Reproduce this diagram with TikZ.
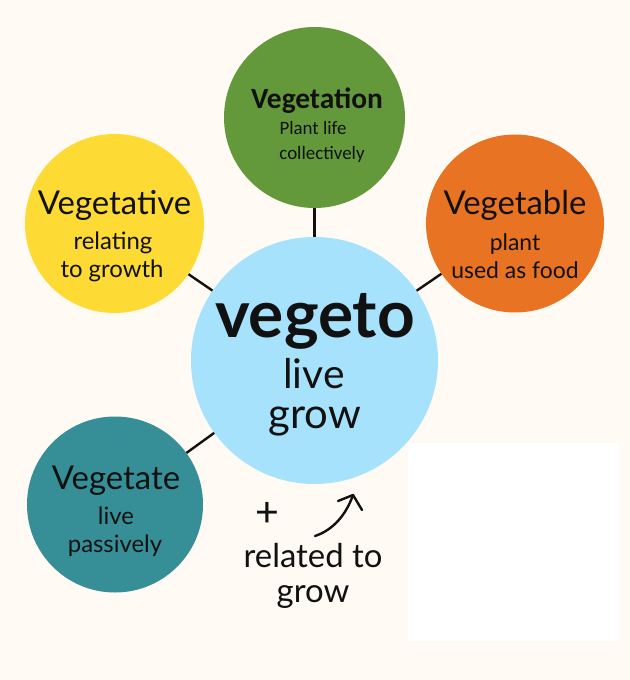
\documentclass[tikz,border=0pt]{standalone}
\usepackage{fontspec}
\setmainfont{Lato}
\newfontfamily\titlefont{Carlito}
\definecolor{paper}{RGB}{255,251,244}
\definecolor{rootblue}{RGB}{166,226,252}
\definecolor{leafgreen}{RGB}{99,153,59}
\definecolor{sunyellow}{RGB}{253,218,52}
\definecolor{carrotorange}{RGB}{232,115,35}
\definecolor{pondteal}{RGB}{54,143,150}
\definecolor{ink}{RGB}{17,17,17}
\tikzset{
  blob/.style={circle, inner sep=0pt, minimum size=#1},
  link/.style={line width=2.4bp, draw=ink},
  word/.style={anchor=base, text=ink, inner sep=0pt},
}
\begin{document}
\begin{tikzpicture}[x=1bp,y=-1bp]
% Paper
\useasboundingbox (0,0) rectangle (630,680);
\fill[paper] (0,0) rectangle (630,680);

% Circles
\node[blob=247bp, fill=rootblue] (vegeto) at (314.5,360.5) {};
\node[blob=181bp, fill=leafgreen] (vegetation) at (314.5,117.5) {};
\node[blob=179bp, fill=sunyellow] (vegetative) at (114.5,223.5) {};
\node[blob=178bp, fill=carrotorange] (vegetable) at (515,223.5) {};
\node[blob=176bp, fill=pondteal] (vegetate) at (115,504.5) {};

% Connectors
\draw[link] (vegetation) -- (vegeto);
\draw[link] (vegetative) -- (vegeto);
\draw[link] (vegetable) -- (vegeto);
\draw[link] (vegetate) -- (vegeto);

% Root word
\node[word, font=\fontsize{66}{70}\selectfont\bfseries] (rootname) at (315,337) {vegeto};
\node[word, font=\fontsize{41}{44}\selectfont] (rootlive) at (314,388) {live};
\node[word, font=\fontsize{42}{45}\selectfont] (rootgrow) at (315,428) {grow};

% Vegetation
\node[word, font=\fontsize{29.5}{31}\selectfont\titlefont\bfseries] (tnname) at (317,109) {Vegetation};
\node[word, font=\fontsize{19}{21}\selectfont\titlefont] (tnlineA) at (313,135) {Plant life};
\node[word, font=\fontsize{19}{21}\selectfont\titlefont] (tnlineB) at (322,159) {collectively};

% Vegetative
\node[word, font=\fontsize{33}{36}\selectfont] (tvname) at (114.5,214) {Vegetative};
\node[word, font=\fontsize{24}{26}\selectfont] (tvlineA) at (113,249) {relating};
\node[word, font=\fontsize{24}{26}\selectfont] (tvlineB) at (112,277) {to growth};

% Vegetable
\node[word, font=\fontsize{33}{36}\selectfont] (tbname) at (515,214) {Vegetable};
\node[word, font=\fontsize{23}{25}\selectfont] (tblineA) at (515,250) {plant};
\node[word, font=\fontsize{23}{25}\selectfont] (tblineB) at (515,278) {used as food};

% Vegetate
\node[word, font=\fontsize{33}{36}\selectfont] (ttname) at (116,489) {Vegetate};
\node[word, font=\fontsize{24}{26}\selectfont] (ttlineA) at (116,524) {live};
\node[word, font=\fontsize{24}{26}\selectfont] (ttlineB) at (115,552) {passively};

% Note below the root
\node[word, font=\fontsize{44}{46}\selectfont\titlefont] (plus) at (267,526) {+};
\node[word, font=\fontsize{33}{36}\selectfont] (notelineA) at (313,567) {related to};
\node[word, font=\fontsize{33}{36}\selectfont] (notelineB) at (313,602) {grow};
\coordinate (bendfrom) at (315,536);
\coordinate (bendto) at (353,495);
\draw[link, line cap=round] (bendfrom) .. controls (333,530) and (346,515) .. (bendto);
\draw[link, line cap=round, line join=round] (338,501) -- (bendto) -- (362,510);

% Blank patch
\fill[white] (408,443) rectangle (619,641);
\end{tikzpicture}
\end{document}
